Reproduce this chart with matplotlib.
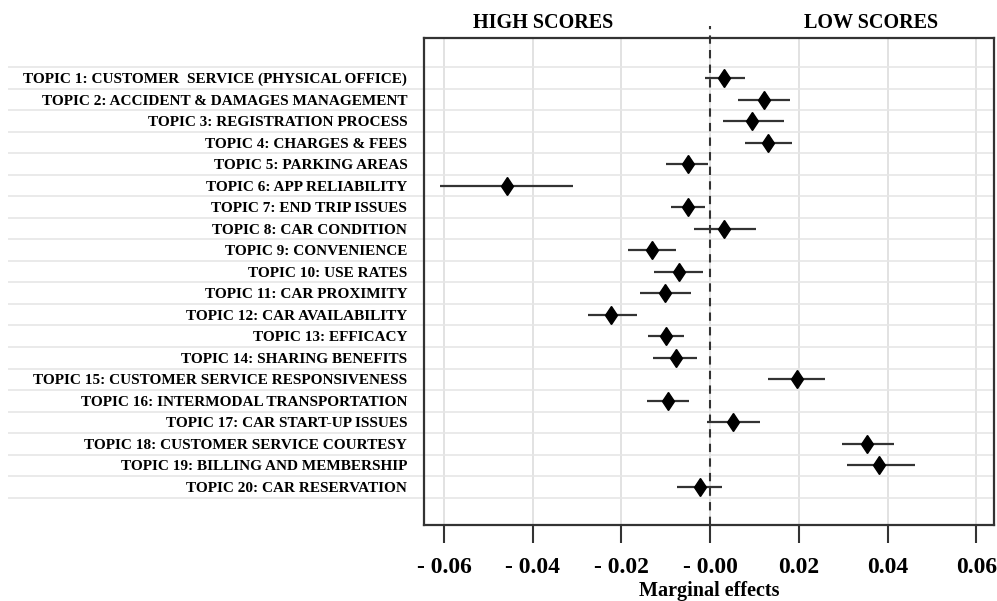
import numpy as np
import matplotlib
matplotlib.use("Agg")
import matplotlib.pyplot as plt

# ==============================================================
# Data
# ==============================================================
topics = [
    "TOPIC 1: CUSTOMER  SERVICE (PHYSICAL OFFICE)",
    "TOPIC 2: ACCIDENT & DAMAGES MANAGEMENT",
    "TOPIC 3: REGISTRATION PROCESS",
    "TOPIC 4: CHARGES & FEES",
    "TOPIC 5: PARKING AREAS",
    "TOPIC 6: APP RELIABILITY",
    "TOPIC 7: END TRIP ISSUES",
    "TOPIC 8: CAR CONDITION",
    "TOPIC 9: CONVENIENCE",
    "TOPIC 10: USE RATES",
    "TOPIC 11: CAR PROXIMITY",
    "TOPIC 12: CAR AVAILABILITY",
    "TOPIC 13: EFFICACY",
    "TOPIC 14: SHARING BENEFITS",
    "TOPIC 15: CUSTOMER SERVICE RESPONSIVENESS",
    "TOPIC 16: INTERMODAL TRANSPORTATION",
    "TOPIC 17: CAR START-UP ISSUES",
    "TOPIC 18: CUSTOMER SERVICE COURTESY",
    "TOPIC 19: BILLING AND MEMBERSHIP",
    "TOPIC 20: CAR RESERVATION",
]
effect = [0.0031, 0.0122, 0.0094, 0.0131, -0.0051, -0.0459, -0.0051, 0.0031, -0.0131, -0.0071,
          -0.0102, -0.0223, -0.0100, -0.0076, 0.0196, -0.0096, 0.0052, 0.0353, 0.0381, -0.0022]
ci_low = [-0.0011, 0.0062, 0.0028, 0.0079, -0.0100, -0.0610, -0.0089, -0.0037, -0.0185, -0.0126,
          -0.0157, -0.0276, -0.0140, -0.0129, 0.0131, -0.0143, -0.0008, 0.0297, 0.0308, -0.0075]
ci_high = [0.0078, 0.0180, 0.0166, 0.0185, -0.0004, -0.0310, -0.0011, 0.0104, -0.0078, -0.0016,
           -0.0042, -0.0164, -0.0058, -0.0030, 0.0259, -0.0047, 0.0112, 0.0415, 0.0463, 0.0027]
xticks = [-0.06, -0.04, -0.02, 0.0, 0.02, 0.04, 0.06]
xtick_labels = ["- 0.06", "- 0.04", "- 0.02", "- 0.00", "0.02", "0.04", "0.06"]

# ==============================================================
# Figure
# ==============================================================
plt.rcParams["font.family"] = ["Liberation Serif", "DejaVu Serif"]
plt.rcParams["font.weight"] = "bold"

fig = plt.figure(figsize=(9.97, 6.01), dpi=100)
ax = fig.add_axes([0.4253, 0.1265, 0.5717, 0.8103])

y = np.arange(1, len(topics) + 1)

# grid
for xt in xticks:
    ax.axvline(xt, color="#dddddd", lw=1.2, zorder=0)
grid_y = np.arange(0.5, len(topics) + 1, 1.0)
for gy in grid_y:
    ax.axhline(gy, color="#e6e6e6", lw=1.2, zorder=0)
# lines continue under the labels
ax.hlines(grid_y, -0.73, 0.0, transform=ax.get_yaxis_transform(),
          color="#e6e6e6", lw=1.2, clip_on=False)

ax.axvline(0, color="#333333", lw=1.5, ls=(0, (4, 3)), ymin=0, ymax=1.025, clip_on=False, zorder=1)

ax.hlines(y, ci_low, ci_high, color="#333333", lw=1.6, zorder=2)
ax.plot(effect, y, ls="none", marker="d", color="black", markersize=9.5, zorder=3)

ax.set_xlim(-0.0645, 0.064)
ax.set_ylim(21.77, -0.86)

ax.set_xticks(xticks)
ax.set_xticklabels(xtick_labels, fontsize=17, fontweight="bold")
ax.set_yticks(y)
ax.set_yticklabels(topics, fontsize=11, fontweight="bold")
ax.tick_params(axis="y", length=0, pad=12)
ax.tick_params(axis="x", length=13, width=1.5, color="#333333", pad=10)

for s in ax.spines.values():
    s.set_linewidth(1.6)
    s.set_color("#333333")

ax.set_xlabel("Marginal effects", fontsize=14.5, fontweight="bold", labelpad=2)

fig.text(543 / 997, 1 - 23 / 601, "HIGH SCORES", ha="center", va="center",
         fontsize=14.5, fontweight="bold")
fig.text(871 / 997, 1 - 23 / 601, "LOW SCORES", ha="center", va="center",
         fontsize=14.5, fontweight="bold")

fig.savefig("out.png", dpi=100)
